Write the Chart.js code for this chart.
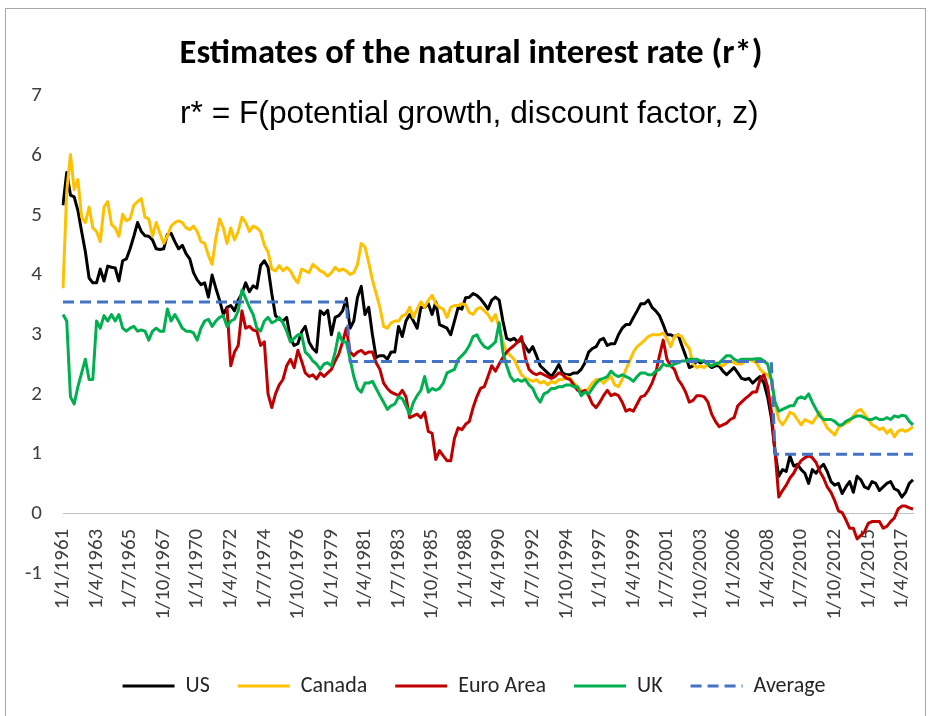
<!DOCTYPE html>
<html>
<head>
<meta charset="utf-8">
<title>Estimates of the natural interest rate (r*)</title>
<script src="https://cdn.jsdelivr.net/npm/chart.js@4.4.0/dist/chart.umd.min.js"></script>
<style>
  html, body { margin: 0; padding: 0; background: #fff; }
  #wrap { width: 930px; height: 716px; }
</style>
</head>
<body>
<div id="wrap"><canvas id="rstar" width="930" height="716"></canvas></div>
<script>
// quarterly estimates, 1/1/1961 .. 1/1/2018
const firstYear = 1961;
const quarterMonths = [1, 4, 7, 10];
const quarterCount = 229;
const labelEvery = 9;

const usValues = [
  5.17,5.72,5.34,5.31,5.08,4.73,4.39,3.95,3.87,3.87,
  4.10,3.90,4.15,4.13,4.12,3.90,4.24,4.27,4.44,4.65,
  4.88,4.73,4.66,4.65,4.59,4.44,4.43,4.44,4.68,4.70,
  4.56,4.44,4.50,4.36,4.27,4.04,3.92,3.84,3.87,3.63,
  4.00,3.78,3.58,3.34,3.46,3.49,3.40,3.58,3.69,3.87,
  3.72,3.82,3.78,4.16,4.24,4.13,3.69,3.32,3.26,3.23,
  3.29,2.94,2.82,2.85,3.05,3.14,2.88,2.77,2.71,3.40,
  3.34,3.41,3.00,3.29,3.32,3.40,3.61,3.11,3.23,3.63,
  3.81,3.34,3.46,3.00,2.62,2.65,2.65,2.59,2.71,2.71,
  3.14,2.97,3.23,3.34,3.23,3.11,3.46,3.46,3.52,3.34,
  3.55,3.17,3.14,3.11,3.00,3.23,3.46,3.43,3.62,3.63,
  3.69,3.66,3.60,3.52,3.43,3.58,3.63,3.58,3.23,2.94,
  2.91,2.94,2.88,2.91,2.80,2.71,2.80,2.65,2.48,2.42,
  2.36,2.30,2.39,2.50,2.36,2.33,2.33,2.36,2.36,2.42,
  2.53,2.71,2.77,2.80,2.91,2.94,2.82,2.85,2.85,3.00,
  3.11,3.17,3.17,3.29,3.40,3.52,3.52,3.58,3.46,3.40,
  3.32,3.17,3.00,3.00,2.97,3.00,2.82,2.65,2.45,2.48,
  2.56,2.53,2.56,2.50,2.45,2.48,2.48,2.39,2.33,2.39,
  2.45,2.36,2.27,2.25,2.27,2.19,2.25,2.30,2.19,1.96,
  1.61,1.03,0.63,0.74,0.71,0.97,0.80,0.83,0.74,0.68,
  0.51,0.74,0.68,0.77,0.83,0.71,0.54,0.48,0.51,0.34,
  0.45,0.54,0.36,0.63,0.57,0.45,0.42,0.54,0.51,0.39,
  0.45,0.51,0.54,0.42,0.39,0.28,0.36,0.51,0.57
];

const canadaValues = [
  3.78,5.40,6.02,5.43,5.60,4.97,4.88,5.14,4.79,4.73,
  4.56,5.14,5.23,4.85,4.79,4.65,5.02,4.91,4.94,5.17,
  5.23,5.28,4.97,4.94,4.65,4.88,4.70,4.53,4.65,4.82,
  4.88,4.91,4.88,4.79,4.76,4.82,4.73,4.56,4.53,4.33,
  4.18,4.62,4.94,4.79,4.53,4.79,4.59,4.73,4.97,4.88,
  4.73,4.82,4.79,4.73,4.50,4.39,4.10,4.07,4.16,4.07,
  4.13,4.07,3.95,3.87,4.10,4.07,4.04,4.18,4.13,4.07,
  4.04,3.98,4.04,4.13,4.07,4.10,4.07,4.01,4.04,4.18,
  4.53,4.47,4.21,3.92,3.69,3.46,3.14,3.11,3.20,3.23,
  3.23,3.32,3.34,3.46,3.29,3.43,3.55,3.46,3.58,3.66,
  3.52,3.46,3.43,3.29,3.46,3.49,3.49,3.52,3.50,3.37,
  3.34,3.43,3.46,3.40,3.34,3.23,3.34,3.11,2.88,2.71,
  2.65,2.59,2.45,2.33,2.27,2.25,2.22,2.25,2.19,2.22,
  2.16,2.22,2.19,2.25,2.25,2.30,2.27,2.19,2.13,2.07,
  2.04,2.10,2.19,2.25,2.25,2.19,2.25,2.30,2.16,2.13,
  2.25,2.42,2.56,2.71,2.80,2.85,2.91,2.97,3.00,3.00,
  3.00,3.03,2.94,2.80,2.97,3.00,2.97,2.85,2.77,2.51,
  2.45,2.48,2.45,2.51,2.48,2.53,2.51,2.48,2.53,2.56,
  2.53,2.51,2.51,2.56,2.59,2.56,2.53,2.42,2.36,2.33,
  2.25,1.84,1.58,1.49,1.58,1.70,1.67,1.58,1.49,1.58,
  1.55,1.52,1.61,1.70,1.55,1.44,1.38,1.32,1.44,1.49,
  1.52,1.55,1.64,1.72,1.75,1.67,1.58,1.49,1.46,1.41,
  1.44,1.35,1.41,1.29,1.38,1.41,1.38,1.41,1.46
];

// euro area series starts in 1972
const euroValues = [
  null,null,null,null,null,null,null,null,null,null,
  null,null,null,null,null,null,null,null,null,null,
  null,null,null,null,null,null,null,null,null,null,
  null,null,null,null,null,null,null,null,null,null,
  null,null,null,null,3.46,2.48,2.71,2.82,3.40,3.11,
  3.14,3.08,3.06,2.82,2.88,2.01,1.78,2.01,2.16,2.25,
  2.48,2.59,2.45,2.74,2.56,2.36,2.30,2.33,2.26,2.36,
  2.30,2.36,2.42,2.56,2.68,2.88,3.11,2.71,2.65,2.71,
  2.74,2.68,2.71,2.71,2.53,2.42,2.19,2.10,2.04,2.01,
  1.98,2.07,1.96,1.61,1.64,1.67,1.61,1.70,1.38,1.35,
  0.91,1.06,0.97,0.89,0.89,1.26,1.44,1.41,1.50,1.55,
  1.78,1.96,2.10,2.13,2.30,2.48,2.39,2.51,2.62,2.71,
  2.77,2.82,2.88,2.97,2.62,2.42,2.36,2.33,2.36,2.33,
  2.30,2.27,2.30,2.36,2.33,2.27,2.25,2.16,2.07,2.04,
  2.07,1.98,1.84,1.78,1.87,1.98,2.07,1.98,2.01,1.98,
  1.87,1.72,1.75,1.72,1.84,1.96,1.98,2.07,2.19,2.36,
  2.65,2.91,2.59,2.48,2.42,2.25,2.16,2.04,1.87,1.90,
  1.98,1.98,1.96,1.87,1.67,1.55,1.46,1.49,1.52,1.58,
  1.61,1.81,1.87,1.93,1.98,2.04,2.04,2.25,2.33,2.13,
  1.72,1.03,0.28,0.39,0.48,0.60,0.68,0.80,0.89,0.94,
  0.97,0.94,0.86,0.71,0.60,0.45,0.36,0.22,0.05,0.02,
  -0.10,-0.24,-0.24,-0.42,-0.36,-0.30,-0.16,-0.13,-0.13,-0.13,
  -0.24,-0.21,-0.13,-0.07,0.08,0.13,0.13,0.10,0.08
];

const ukValues = [
  3.34,3.23,1.96,1.84,2.13,2.36,2.59,2.25,2.25,3.23,
  3.11,3.32,3.23,3.34,3.23,3.34,3.11,3.06,3.11,3.14,
  3.06,3.08,3.06,2.91,3.06,3.11,3.06,3.06,3.43,3.23,
  3.34,3.23,3.11,3.06,3.06,3.03,2.91,3.11,3.23,3.26,
  3.14,3.23,3.29,3.32,3.14,3.23,3.26,3.40,3.75,3.61,
  3.46,3.34,3.11,3.06,3.23,3.29,3.20,3.23,3.29,3.20,
  3.06,2.88,2.94,3.00,3.00,2.71,2.65,2.56,2.51,2.42,
  2.51,2.53,2.48,2.71,3.03,2.88,2.88,2.59,2.30,2.10,
  2.04,2.19,2.19,2.22,2.10,1.98,1.87,1.75,1.81,1.84,
  1.96,1.93,1.81,1.67,1.87,1.98,2.07,2.30,2.04,2.10,
  2.07,2.10,2.19,2.36,2.39,2.42,2.59,2.65,2.72,2.82,
  2.97,3.00,2.88,2.80,2.77,2.82,2.88,3.20,2.71,2.48,
  2.30,2.22,2.25,2.22,2.25,2.16,2.10,1.96,1.87,2.01,
  2.04,2.10,2.10,2.13,2.13,2.16,2.16,2.13,2.13,1.98,
  2.04,2.01,2.10,2.19,2.25,2.27,2.30,2.39,2.33,2.30,
  2.33,2.30,2.27,2.22,2.30,2.36,2.36,2.33,2.33,2.39,
  2.42,2.51,2.48,2.48,2.51,2.53,2.56,2.56,2.59,2.59,
  2.59,2.56,2.56,2.51,2.48,2.51,2.53,2.59,2.65,2.65,
  2.59,2.56,2.59,2.59,2.59,2.59,2.60,2.60,2.56,2.51,
  2.25,1.87,1.72,1.75,1.78,1.81,1.81,1.93,1.96,1.93,
  2.01,1.87,1.75,1.64,1.58,1.58,1.58,1.55,1.49,1.49,
  1.55,1.58,1.61,1.64,1.64,1.61,1.58,1.58,1.61,1.58,
  1.58,1.61,1.58,1.64,1.62,1.65,1.64,1.55,1.49
];

// average r* by period: up to 1/1/1980, up to 1/7/2008, after
const averageLevels = [3.55, 2.55, 1.00];
const averageLastIndex = [76, 190, 228];

const titleText = 'Estimates of the natural interest rate (r*)';
const subtitleText = 'r* = F(potential growth, discount factor, z)';

const quarterLabels = [];
for (let i = 0; i < quarterCount; i++) {
    const year = firstYear + Math.floor(i / 4);
    quarterLabels.push(`1/${quarterMonths[i % 4]}/${year}`);
}

const averageValues = quarterLabels.map((_, i) => {
    const k = averageLastIndex.findIndex(last => i <= last);
    return averageLevels[k];
});

const uiFont = 'Carlito, Lato, sans-serif';

const decor = {
    id: 'decor',
    afterLayout(chart) {
        // y labels hang left of the padded axis box; don't let the box clip them
        chart.scales.y.left = 0;
    },
    beforeDraw(chart) {
        const ctx = chart.ctx;
        ctx.save();
        ctx.fillStyle = '#fff';
        ctx.fillRect(0, 0, chart.width, chart.height);
        ctx.strokeStyle = '#a6a6a6';
        ctx.lineWidth = 1;
        ctx.strokeRect(5.5, 8.5, 920, 740);
        ctx.restore();
    },
    afterDraw(chart) {
        const ctx = chart.ctx;
        ctx.save();
        ctx.fillStyle = '#000';
        ctx.textBaseline = 'alphabetic';
        ctx.textAlign = 'center';
        ctx.font = `bold 34.5px ${uiFont}`;
        ctx.fillText(titleText, 471, 63);
        ctx.textAlign = 'left';
        ctx.font = '31.7px "Liberation Sans", Arial, sans-serif';
        ctx.fillText(subtitleText, 180, 123);
        ctx.restore();
    }
};

function series(label, data, color, order, dash) {
    return {
        label: label,
        data: data,
        borderColor: color,
        backgroundColor: color,
        borderWidth: 3,
        borderDash: dash || [],
        borderCapStyle: 'butt',
        borderJoinStyle: 'round',
        pointRadius: 0,
        tension: 0,
        spanGaps: false,
        order: order
    };
}

// legend keys as short line samples, keeping each dataset's dash
function legendLines(chart) {
    const items = Chart.defaults.plugins.legend.labels.generateLabels(chart);
    return items.map(item => {
        const ds = chart.data.datasets[item.datasetIndex];
        item.strokeStyle = ds.borderColor;
        item.lineWidth = ds.borderWidth;
        item.lineDash = ds.borderDash;
        item.lineCap = 'butt';
        return item;
    });
}

new Chart(document.getElementById('rstar'), {
    type: 'line',
    data: {
        labels: quarterLabels,
        datasets: [
            series('US', usValues, '#000000', 4),
            series('Canada', canadaValues, '#ffc000', 3),
            series('Euro Area', euroValues, '#c00000', 2),
            series('UK', ukValues, '#00b050', 1),
            series('Average', averageValues, '#4472c4', 0, [11, 6])
        ]
    },
    options: {
        responsive: false,
        animation: false,
        devicePixelRatio: 1,
        layout: { padding: { left: 35, right: 17, top: 96, bottom: 9 } },
        scales: {
            x: {
                position: { y: 0 },
                grid: { display: false, drawTicks: false },
                border: { display: true, color: '#bfbfbf', width: 1 },
                ticks: {
                    autoSkip: false,
                    minRotation: 90,
                    maxRotation: 90,
                    padding: 15,
                    color: '#404040',
                    font: { family: uiFont, size: 21 },
                    callback: (v, i) => (i % labelEvery === 0 ? quarterLabels[i] : '')
                },
                afterFit: s => { s.paddingLeft = 0; s.paddingRight = 0; }
            },
            y: {
                min: -1,
                max: 7,
                grid: { display: false, drawTicks: false },
                border: { display: false },
                ticks: { stepSize: 1, padding: 21, color: '#404040', font: { family: uiFont, size: 21 } },
                afterFit: s => { s.width = 28; }
            }
        },
        plugins: {
            legend: {
                position: 'bottom',
                // empty title only reserves the gap under the rotated date labels
                title: { display: true, text: '', font: { size: 10, lineHeight: 1 }, padding: { top: 63.5, bottom: 0 } },
                labels: {
                    usePointStyle: true,
                    pointStyle: 'line',
                    pointStyleWidth: 52,
                    boxHeight: 10,
                    padding: 28,
                    color: '#262626',
                    font: { family: uiFont, size: 22 },
                    generateLabels: legendLines,
                    sort: (a, b) => a.datasetIndex - b.datasetIndex
                }
            },
            title: { display: false },
            tooltip: { enabled: false }
        }
    },
    plugins: [decor]
});
</script>
</body>
</html>
